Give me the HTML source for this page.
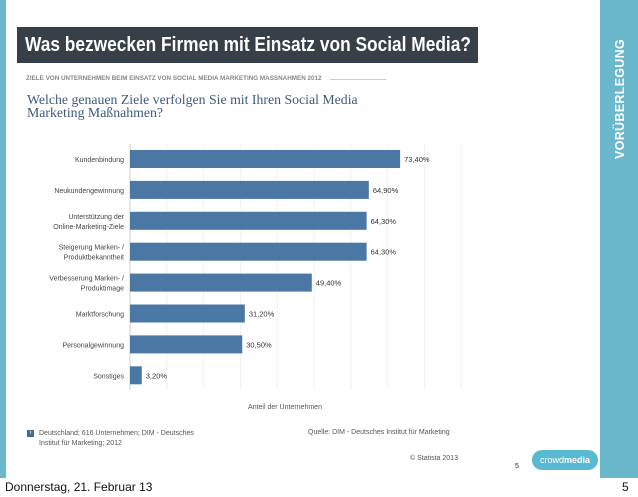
<!DOCTYPE html>
<html><head><meta charset="utf-8"><style>
body{margin:0;width:638px;height:497px;position:relative;overflow:hidden;background:#fff;font-family:"Liberation Sans",sans-serif}
div{position:absolute}
</style></head><body>
<div style="left:0;top:0;width:6px;height:478px;background:#6bb8cc"></div>
<div style="left:600px;top:0;width:38px;height:478px;background:#6bb8cc"></div>
<div style="left:560px;top:91px;width:120px;height:16px;transform:rotate(-90deg);color:#fff;font-weight:bold;font-size:12.5px;letter-spacing:0.3px;text-align:center;line-height:16px">VORÜBERLEGUNG</div>
<div style="left:17px;top:27px;width:461px;height:36px;background:#373f48;color:#fff;font-weight:bold;font-size:20px;line-height:36px;white-space:nowrap;overflow:hidden"><span id="tt" style="display:inline-block;transform-origin:0 50%;margin-left:8px">Was bezwecken Firmen mit Einsatz von Social Media?</span></div>
<div style="left:26px;top:75px;font-size:6.3px;color:#888;font-weight:bold;white-space:nowrap">ZIELE VON UNTERNEHMEN BEIM EINSATZ VON SOCIAL MEDIA MARKETING MASSNAHMEN 2012</div>
<div style="left:330px;top:79px;width:56px;height:1px;background:#ccc"></div>
<div style="left:27px;top:93px;font-family:'Liberation Serif',serif;font-size:13.8px;line-height:13px;color:#3e5a7d;width:400px">Welche genauen Ziele verfolgen Sie mit Ihren Social Media<br>Marketing Maßnahmen?</div>
<svg style="position:absolute;left:0;top:0" width="638" height="497" id="chart"></svg>
<div style="left:210px;top:404px;width:150px;text-align:center;font-size:7px;color:#555">Anteil der Unternehmen</div>
<div style="left:27px;top:430px;width:7px;height:7px;background:#3d6c97;color:#fff;font-size:6px;line-height:7px;text-align:center">i</div>
<div style="left:39px;top:429px;font-size:7px;line-height:10px;color:#555;width:165px">Deutschland; 616 Unternehmen; DIM - Deutsches Institut für Marketing; 2012</div>
<div style="left:308px;top:429px;font-size:7px;color:#555;white-space:nowrap">Quelle: DIM - Deutsches Institut für Marketing</div>
<div style="left:410px;top:455px;font-size:7px;color:#555;white-space:nowrap">© Statista 2013</div>
<div style="left:515px;top:463px;font-size:7px;color:#333">5</div>
<div style="left:532px;top:450px;width:66px;height:20px;background:#5ab9d2;border-radius:12px;color:#fff;font-size:9px;line-height:20px;text-align:center">crowd<b>media</b></div>
<div style="left:5px;top:480px;font-size:12px;color:#111">Donnerstag, 21. Februar 13</div>
<div style="left:622px;top:480px;font-size:12px;color:#111">5</div>
<script>
const categories=[["Kundenbindung"],["Neukundengewinnung"],["Unterstützung der","Online-Marketing-Ziele"],["Steigerung Marken- /","Produktbekanntheit"],["Verbesserung Marken- /","Produktimage"],["Marktforschung"],["Personalgewinnung"],["Sonstiges"]];
const values=[73.4,64.9,64.3,64.3,49.4,31.2,30.5,3.2];
const valueLabels=["73,40%","64,90%","64,30%","64,30%","49,40%","31,20%","30,50%","3,20%"];
const gridTicks=[10,20,30,40,50,60,70,80,90];
const tt=document.getElementById('tt');
tt.style.transform='scaleX('+(446/tt.offsetWidth)+')';
const svg=document.getElementById('chart');
const NS='http://www.w3.org/2000/svg';
const x0=130,pxPer=3.68,y0=150,pitch=30.9,bh=18;
const xs=v=>x0+v*pxPer;
function mk(t,a){const e=document.createElementNS(NS,t);for(const k in a)e.setAttribute(k,a[k]);svg.appendChild(e);return e;}
gridTicks.forEach(t=>{const g=mk('line',{x1:xs(t),x2:xs(t),y1:144,y2:390,stroke:'#eef0f3','stroke-width':1});

});
const ax=mk('line',{x1:x0,x2:x0,y1:144,y2:390,stroke:'#ccc','stroke-width':1});


values.forEach((v,i)=>{const y=y0+i*pitch;
const r=mk('rect',{x:x0,y:y,width:v*pxPer,height:bh,fill:'#4a77a3'});


const t=mk('text',{x:xs(v)+4,y:y+bh/2+3,'font-size':7.5,fill:'#333','font-family':'Liberation Sans'});t.textContent=valueLabels[i];


const lines=categories[i];
lines.forEach((l,j)=>{const c=mk('text',{x:x0-6,y:y+bh/2+3+(j-(lines.length-1)/2)*10,'font-size':7,fill:'#444','text-anchor':'end','font-family':'Liberation Sans'});c.textContent=l;

});
});
</script>
</body></html>
